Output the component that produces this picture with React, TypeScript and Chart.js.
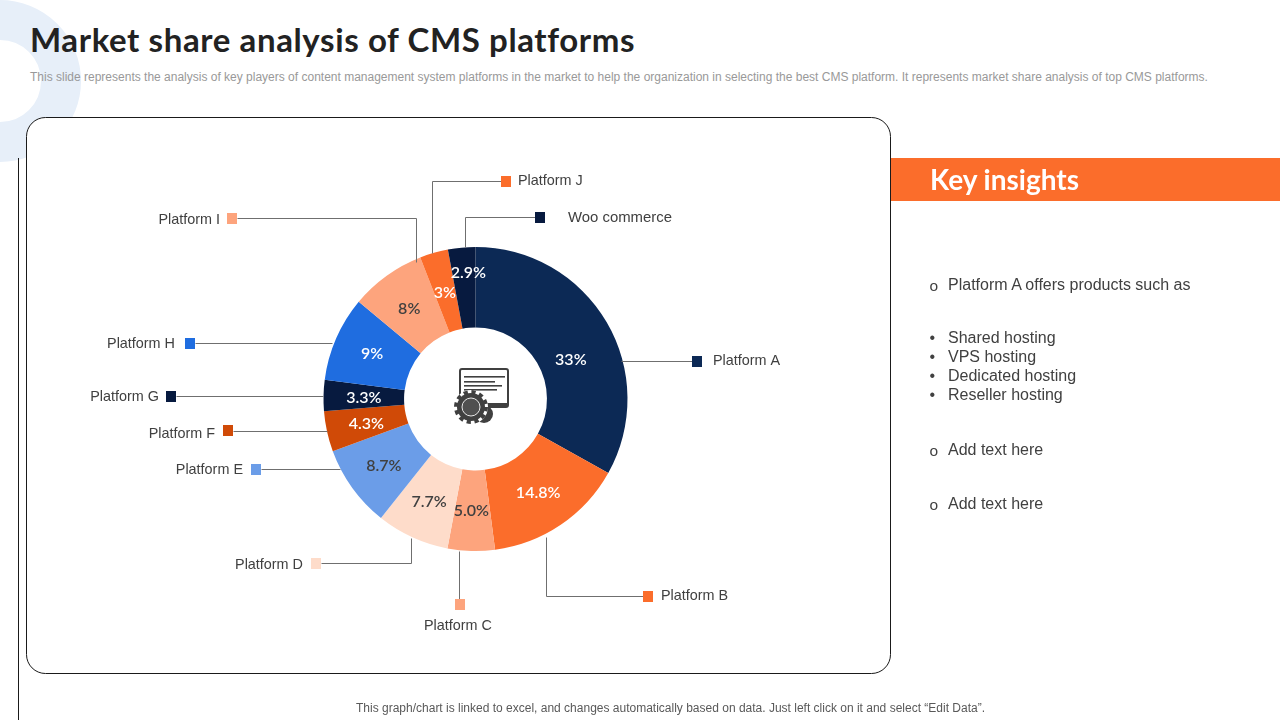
import React, { useEffect, useRef } from "react";
import { Chart, registerables } from "chart.js";

Chart.register(...registerables);

const platforms = ["Platform A", "Platform B", "Platform C", "Platform D", "Platform E", "Platform F", "Platform G", "Platform H", "Platform I", "Platform J", "Woo commerce"];
const shares = [33, 14.8, 5.0, 7.7, 8.7, 4.3, 3.3, 9, 8, 3, 2.9];
const shareLabels = ["33%", "14.8%", "5.0%", "7.7%", "8.7%", "4.3%", "3.3%", "9%", "8%", "3%", "2.9%"];
const sliceColors = ["#0c2955", "#fb6d2b", "#fda47d", "#fedcca", "#6b9de8", "#d04a07", "#071a3f", "#1f6de0", "#fda47d", "#fb6d2b", "#071a3f"];
const shareTextColors = ["#ffffff", "#ffffff", "#404040", "#404040", "#404040", "#ffffff", "#ffffff", "#ffffff", "#404040", "#ffffff", "#ffffff"];
const insightItems = ["Shared hosting", "VPS hosting", "Dedicated hosting", "Reseller hosting"];

// Callout layout: leader path, swatch centre, text anchor
const callouts = [
  { path: [[621, 361], [692, 361]], box: [697, 361], text: [713, 361], align: "left" },
  { path: [[546, 537], [546, 596], [643, 596]], box: [648, 596], text: [661, 596], align: "left" },
  { path: [[459, 551], [459, 599]], box: [460, 604], text: [458, 626], align: "center" },
  { path: [[411, 538], [411, 563], [321, 563]], box: [316, 563], text: [303, 565], align: "right" },
  { path: [[340, 469], [261, 469]], box: [256, 469], text: [243, 470], align: "right" },
  { path: [[327, 431], [233, 431]], box: [228, 430], text: [215, 434], align: "right" },
  { path: [[323, 396], [176, 396]], box: [171, 396], text: [159, 397], align: "right" },
  { path: [[332, 343], [195, 343]], box: [190, 343], text: [175, 344], align: "right" },
  { path: [[416, 262], [416, 218], [237, 218]], box: [232, 218], text: [220, 220], align: "right" },
  { path: [[432, 253], [432, 181], [501, 181]], box: [506, 181], text: [518, 181], align: "left" },
  { path: [[465, 247], [465, 217], [535, 217]], box: [540, 217], text: [568, 218], align: "left" },
];
const labelShift = [[-1, 17], [0, 1], [-1, 0], [0, 1], [-1, 1], [0, 1], [0, 1], [-1, 0], [-1, 1], [0, 1], [3, -15]];

const calloutPlugin = {
  id: "callouts",
  afterDatasetsDraw(chart: any) {
    const ctx = chart.ctx;
    ctx.save();
    callouts.forEach((c, i) => {
      ctx.strokeStyle = "#6f6f6f";
      ctx.lineWidth = 1;
      ctx.beginPath();
      c.path.forEach((p, k) => {
        const x = Math.round(p[0]) + 0.5;
        const y = Math.round(p[1]) + 0.5;
        if (k === 0) ctx.moveTo(x, y);
        else ctx.lineTo(x, y);
      });
      ctx.stroke();
      ctx.fillStyle = sliceColors[i];
      ctx.fillRect(c.box[0] - 5, c.box[1] - 5, 10, 11);
      ctx.fillStyle = "#404040";
      ctx.font = i === 10 ? '14.9px "Liberation Sans"' : '14.4px "Liberation Sans"';
      ctx.textAlign = c.align;
      ctx.textBaseline = "middle";
      ctx.fillText(platforms[i], c.text[0], c.text[1]);
    });
    const arcs = chart.getDatasetMeta(0).data;
    ctx.font = '600 16px Lato';
    ctx.textAlign = "center";
    arcs.forEach((arc: any, i: number) => {
      const p = arc.tooltipPosition();
      ctx.fillStyle = shareTextColors[i];
      ctx.fillText(shareLabels[i], p.x + labelShift[i][0], p.y + labelShift[i][1]);
    });
    ctx.restore();
  },
};

const abs = (o: React.CSSProperties): React.CSSProperties => ({ position: "absolute", whiteSpace: "nowrap", ...o });
const bodyFont = '"Liberation Sans", Arial, sans-serif';

function Line({ y, marker, text }: { y: number; marker: string; text: string }) {
  return (
    <>
      <div style={abs({ left: 929.5, top: marker === "o" ? y - 9 : y - 10, fontFamily: bodyFont, fontSize: marker === "o" ? 15.5 : 16, lineHeight: "22px", color: "#404040" })}>{marker}</div>
      <div style={abs({ left: 948, top: y - 10, fontFamily: bodyFont, fontSize: 16, lineHeight: "22px", color: "#404040" })}>{text}</div>
    </>
  );
}

export default function App() {
  const ref = useRef<HTMLCanvasElement>(null);
  useEffect(() => {
    document.body.style.margin = "0";
    const chart = new Chart(ref.current!, {
      type: "doughnut",
      data: { labels: platforms, datasets: [{ data: shares, backgroundColor: sliceColors, borderWidth: 0 }] },
      options: {
        responsive: false,
        animation: false,
        cutout: "47%",
        layout: { padding: { left: 323.5, right: 652.5, top: 247, bottom: 169 } },
        plugins: { legend: { display: false }, tooltip: { enabled: false } },
      },
      plugins: [calloutPlugin],
    } as any);
    return () => chart.destroy();
  }, []);

  return (
    <div style={{ position: "relative", width: 1280, height: 720, overflow: "hidden", background: "#fff" }}>
      <svg width={1280} height={720} style={{ position: "absolute", left: 0, top: 0 }}>
        <circle cx={0} cy={81} r={61} fill="none" stroke="#e7eff9" strokeWidth={40} />
        <line x1={18.5} y1={158} x2={18.5} y2={720} stroke="#1a1a1a" />
        <rect x={26.5} y={117.5} width={864} height={556} rx={19} fill="#fff" stroke="#1a1a1a" />
        <rect x={891} y={158} width={389} height={43} fill="#fb6d2b" />
      </svg>
      <div style={abs({ left: 30, top: 19, fontFamily: "Lato, sans-serif", fontWeight: 700, fontSize: 33, lineHeight: "40px", color: "#222222", letterSpacing: 0.61 })}>Market share analysis of CMS platforms</div>
      <div style={abs({ left: 30, top: 70, fontFamily: bodyFont, fontSize: 12, lineHeight: "15px", color: "#999999" })}>This slide represents the analysis of key players of content management system platforms in the market to help the organization in selecting the best CMS platform. It represents market share analysis of top CMS platforms.</div>
      <canvas ref={ref} width={1280} height={720} style={{ position: "absolute", left: 0, top: 0, width: 1280, height: 720 }} />
      <svg width={70} height={90} viewBox="0 0 70 90" style={{ position: "absolute", left: 440, top: 350 }}>
        <rect x={20} y={19} width={48} height={38} rx={2} fill="#fff" stroke="#404040" strokeWidth={2} />
        <rect x={20} y={53} width={48} height={4} fill="#404040" />
        <rect x={24} y={26} width={41} height={1.6} fill="#404040" />
        <rect x={24} y={31} width={31} height={1.6} fill="#404040" />
        <rect x={24} y={35} width={38} height={1.6} fill="#404040" />
        <rect x={24} y={39} width={33} height={1.6} fill="#404040" />
        <circle cx={44} cy={64} r={9} fill="#404040" />
        <circle cx={31} cy={57} r={17} fill="#fff" />
        <circle cx={31} cy={57} r={15} fill="none" stroke="#404040" strokeWidth={4} strokeDasharray="4.2 3.65" />
        <circle cx={31} cy={57} r={14} fill="#404040" />
        <circle cx={31} cy={57} r={9} fill="#505050" stroke="#e8e8e8" strokeWidth={1} />
      </svg>
      <div style={abs({ left: 930, top: 162, fontFamily: "Lato, sans-serif", fontWeight: 700, fontSize: 28, lineHeight: "34px", color: "#fff" })}>Key insights</div>
      <Line y={284} marker="o" text="Platform A offers products such as" />
      {insightItems.map((t, i) => (
        <Line key={t} y={337 + i * 19} marker="•" text={t} />
      ))}
      <Line y={449} marker="o" text="Add text here" />
      <Line y={503} marker="o" text="Add text here" />
      <div style={abs({ left: 356, top: 700.5, fontFamily: bodyFont, fontSize: 12, lineHeight: "15px", color: "#595959" })}>This graph/chart is linked to excel, and changes automatically based on data. Just left click on it and select “Edit Data”.</div>
    </div>
  );
}
